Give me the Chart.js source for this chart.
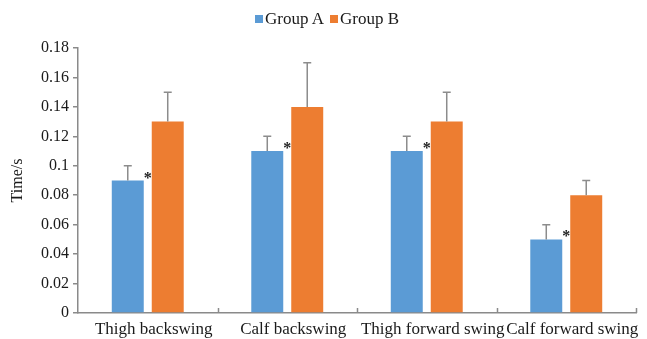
<!DOCTYPE html>
<html>
<head>
<meta charset="utf-8">
<script src="https://cdn.jsdelivr.net/npm/chart.js@4.4.1/dist/chart.umd.min.js"></script>
<style>
  html, body { margin: 0; padding: 0; background: #fff; overflow: hidden; }
  #wrap { position: relative; width: 647px; height: 339px; }
  #legend {
    position: absolute; top: 9px; left: 0; width: 654px;
    display: flex; justify-content: center; align-items: center;
    font-family: "Liberation Serif", "Times New Roman", serif;
    font-size: 17px; color: #1a1a1a; line-height: 20px;
  }
  #legend .item { display: flex; align-items: center; margin: 0 3px; }
  #legend .box { width: 8px; height: 8px; margin-right: 2px; }
  canvas { display: block; }
</style>
</head>
<body>
<div id="wrap">
  <div id="legend"></div>
  <canvas id="chart" width="647" height="339"></canvas>
</div>
<script>
// Swing phase durations (s) for the two groups, with upper error bars
const categories = ['Thigh backswing', 'Calf backswing', 'Thigh forward swing', 'Calf forward swing'];
const seriesNames = ['Group A', 'Group B'];
const groupA = [0.09, 0.11, 0.11, 0.05];
const groupB = [0.13, 0.14, 0.13, 0.08];
const errorA = [0.01, 0.01, 0.01, 0.01];
const errorB = [0.02, 0.03, 0.02, 0.01];
const markedA = [true, true, true, true];   // significance asterisks on Group A
const yMin = 0;
const yMax = 0.18;
const yStep = 0.02;
const axisTitle = 'Time/s';

const colors = ['#5B9BD5', '#ED7D31'];
const axisColor = '#8a8a8a';
const textColor = '#1a1a1a';
const serif = '"Liberation Serif", "Times New Roman", serif';

// HTML legend
const legendEl = document.getElementById('legend');
seriesNames.forEach((name, i) => {
  const item = document.createElement('span');
  item.className = 'item';
  const box = document.createElement('span');
  box.className = 'box';
  box.style.background = colors[i];
  const label = document.createElement('span');
  label.textContent = name;
  item.appendChild(box);
  item.appendChild(label);
  legendEl.appendChild(item);
});

// Error bars (upper whisker with cap) and asterisks
const errorBarPlugin = {
  id: 'errorBars',
  afterDatasetsDraw(chart) {
    const ctx = chart.ctx;
    const y = chart.scales.y;
    const errs = [errorA, errorB];
    ctx.save();
    ctx.strokeStyle = '#8c8c8c';
    ctx.lineWidth = 1.5;
    chart.data.datasets.forEach((ds, di) => {
      const meta = chart.getDatasetMeta(di);
      meta.data.forEach((bar, i) => {
        const v = ds.data[i];
        const top = y.getPixelForValue(v + errs[di][i]);
        const base = y.getPixelForValue(v);
        ctx.beginPath();
        ctx.moveTo(bar.x, base);
        ctx.lineTo(bar.x, top);
        ctx.moveTo(bar.x - 4, top);
        ctx.lineTo(bar.x + 4, top);
        ctx.stroke();
      });
    });
    // asterisks beside Group A bars
    const metaA = chart.getDatasetMeta(0);
    ctx.fillStyle = '#222';
    ctx.font = 'bold 16px ' + serif;
    ctx.textAlign = 'center';
    ctx.textBaseline = 'alphabetic';
    metaA.data.forEach((bar, i) => {
      if (!markedA[i]) return;
      const right = bar.x + bar.width / 2;
      ctx.fillText('*', right + 4, bar.y + 2);
    });
    ctx.restore();
  }
};

// Category separator tick marks pointing up from the x axis
const xTickPlugin = {
  id: 'xTicks',
  afterDraw(chart) {
    const x = chart.scales.x;
    const ctx = chart.ctx;
    const n = categories.length;
    const step = (x.right - x.left) / n;
    ctx.save();
    ctx.strokeStyle = axisColor;
    ctx.lineWidth = 1.5;
    for (let i = 1; i <= n; i++) {
      const px = Math.round(x.left + i * step) + 0.5;
      ctx.beginPath();
      ctx.moveTo(px, x.top);
      ctx.lineTo(px, x.top - 5);
      ctx.stroke();
    }
    ctx.restore();
  }
};

new Chart(document.getElementById('chart'), {
  type: 'bar',
  data: {
    labels: categories,
    datasets: [
      { label: seriesNames[0], data: groupA, backgroundColor: colors[0] },
      { label: seriesNames[1], data: groupB, backgroundColor: colors[1] }
    ]
  },
  options: {
    responsive: false,
    animation: false,
    devicePixelRatio: 1,
    categoryPercentage: 0.573,
    barPercentage: 0.8,
    layout: { padding: { top: 48, right: 11, left: 0, bottom: 0 } },
    plugins: {
      legend: { display: false },
      tooltip: { enabled: false }
    },
    scales: {
      x: {
        grid: { display: false },
        border: { display: true, color: axisColor, width: 1.5 },
        ticks: {
          color: textColor,
          font: { family: serif, size: 17 },
          padding: -2,
          labelOffset: 6,
          maxRotation: 0,
          autoSkip: false
        },
        afterFit(scale) { scale.height = 26; }
      },
      y: {
        min: yMin,
        max: yMax,
        grid: { display: true, drawOnChartArea: false, drawTicks: true, tickLength: 5, color: axisColor, lineWidth: 1.5 },
        border: { display: true, color: axisColor, width: 1.5 },
        ticks: {
          stepSize: yStep,
          color: textColor,
          font: { family: serif, size: 16 },
          padding: 4,
          callback: (v) => String(parseFloat(Number(v).toFixed(2)))
        },
        title: {
          display: true,
          text: axisTitle,
          color: textColor,
          font: { family: serif, size: 16 },
          padding: { top: 8, bottom: 0 }
        },
        afterFit(scale) { scale.width = 78; }
      }
    }
  },
  plugins: [errorBarPlugin, xTickPlugin]
});
</script>
</body>
</html>
